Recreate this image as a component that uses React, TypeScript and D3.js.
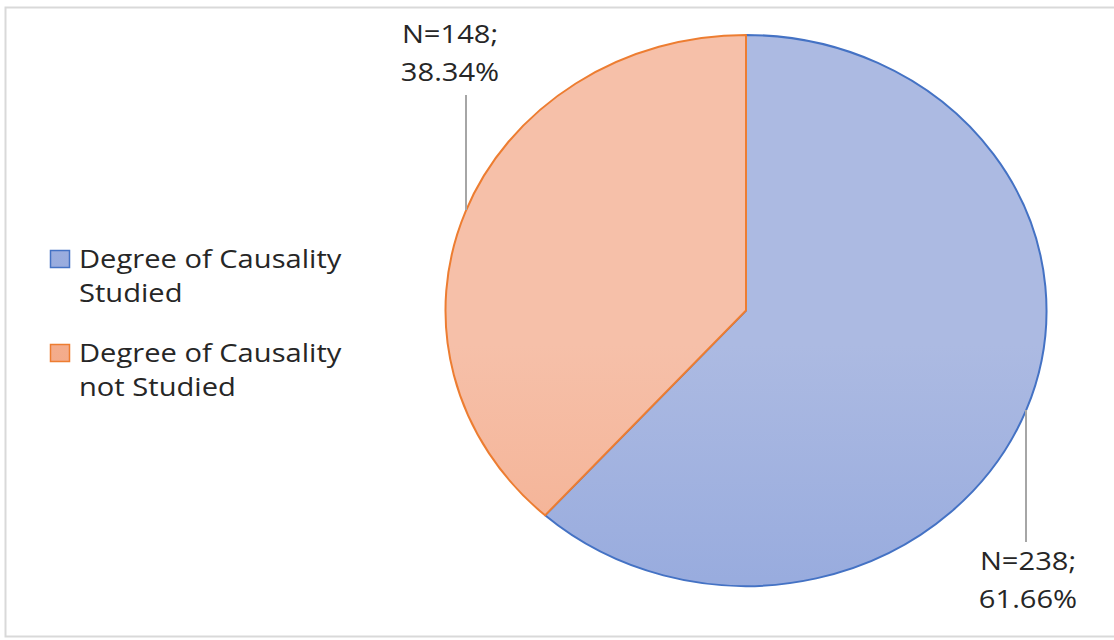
import React from "react";
import * as d3 from "d3";

const categories = ["Degree of Causality Studied", "Degree of Causality not Studied"];
const legendLines = [["Degree of Causality", "Studied"], ["Degree of Causality", "not Studied"]];
const counts = [238, 148];
const percents = ["61.66%", "38.34%"];
const fillTop = ["#acbae2", "#f6c0a9"];
const fillBottom = ["#7f99d9", "#f29d76"];
const strokes = ["#4472c4", "#ed7d31"];

const W = 1114, H = 640;
const cx = 746, cy = 310.5, ry = 275.5, rx = 300.5;
const FONT = "'Open Sans', sans-serif";
const FS = 26;
const SX = 1.12;

function Label({ x, y, lines, anchor, gap }: { x: number; y: number; lines: string[]; anchor: string; gap: number }) {
  return (
    <text transform={`translate(${x},${y}) scale(${SX},1)`} textAnchor={anchor} fontFamily={FONT} fontSize={FS} fill="#262626">
      {lines.map((l, j) => (
        <tspan key={j} x={0} y={j * gap}>{l}</tspan>
      ))}
    </text>
  );
}

export default function App() {
  const pie = d3.pie<number>().sort(null).value((d) => d);
  const arcs = pie(counts);
  const arc = d3.arc<d3.PieArcDatum<number>>().innerRadius(0).outerRadius(ry);
  const sx = rx / ry;

  return (
    <svg width={W} height={H} style={{ position: "absolute", left: 0, top: 0, background: "#fff" }}>
      <defs>
        {categories.map((c, i) => (
          <linearGradient key={c} id={`g${i}`} gradientUnits="userSpaceOnUse" x1={0} y1={cy - ry} x2={0} y2={cy + ry}>
            <stop offset="0" stopColor={fillTop[i]} />
            <stop offset="1" stopColor={fillBottom[i]} />
          </linearGradient>
        ))}
      </defs>
      <rect x={5.5} y={7.5} width={W} height={629} fill="none" stroke="#d9d9d9" strokeWidth={2} />
      <g transform={`translate(${cx},${cy}) scale(${sx},1)`}>
        {arcs.map((a, i) => (
          <path
            key={i}
            d={arc(a) || ""}
            fill={`url(#g${i})`}
            stroke={strokes[i]}
            strokeWidth={2}
            strokeLinejoin="round"
            vectorEffect="non-scaling-stroke"
          />
        ))}
      </g>
      {/* leader lines */}
      <line x1={1026} y1={410} x2={1026} y2={542} stroke="#a6a6a6" strokeWidth={2} />
      <line x1={466} y1={95} x2={466} y2={210} stroke="#a6a6a6" strokeWidth={2} />
      {/* data labels */}
      <Label x={1028} y={570} lines={[`N=${counts[0]};`, percents[0]]} anchor="middle" gap={38} />
      <Label x={450} y={43} lines={[`N=${counts[1]};`, percents[1]]} anchor="middle" gap={38} />
      {/* legend */}
      {legendLines.map((lines, i) => {
        const y0 = 268 + i * 94;
        return (
          <g key={i}>
            <rect x={50.5} y={y0 - 17.5} width={19} height={17} fill={`url(#g${i})`} stroke={strokes[i]} strokeWidth={1.5} />
            <Label x={79} y={y0} lines={lines} anchor="start" gap={34} />
          </g>
        );
      })}
    </svg>
  );
}
